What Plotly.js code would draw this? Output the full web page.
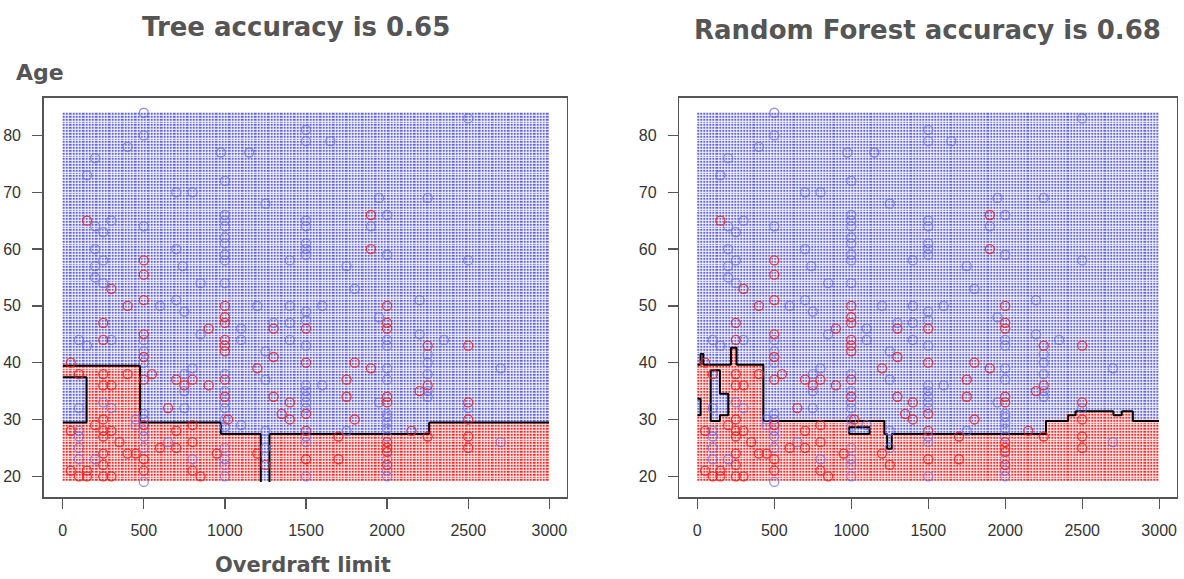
<!DOCTYPE html>
<html><head><meta charset="utf-8">
<script src="https://cdn.plot.ly/plotly-3.0.1.min.js"></script>
<style>html,body{margin:0;padding:0;background:#fff}#chart{width:1184px;height:579px}</style>
</head><body><div id="chart"></div>
<script>
// ---- observed customers (Overdraft limit, Age) ----
const blueX = [500,2500,500,1500,1650,1500,400,200,975,1150,150,1000,700,800,1250,2250,1950,300,200,250,500,1000,1000,1000,1500,1500,2000,1000,1000,1500,1500,1900,700,200,2000,1000,1000,740,250,1400,1750,2500,200,200,250,850,1800,1000,700,600,750,1200,1400,1600,2200,1500,1500,1100,1300,1400,1950,1500,
 2200,2350,2000,2000,2250,2250,2250,2700,2000,2000,100,150,300,500,500,500,850,1100,1400,1500,1250,800,750,1000,1000,1250,1500,1500,1500,1500,1500,1600,100,250,300,100,100,100,100,200,450,450,500,500,500,500,500,500,650,750,750,800,1000,1000,1000,1000,1000,1000,1000,1000,1100,1250,1250,1500,1500,1500,1750,1950,2000,2000,2000,2000,2000,2000,2000,2000,2250,2250,2500,2700];
const blueY = [84,83,80,81,79,79,78,76,77,77,73,72,70,70,68,69,69,65,64,63,64,66,65,64,65,64,66,62,61,61,60,64,60,60,59,59,58,57,58,58,57,58,57,55,54,54,53,54,51,50,49,50,50,50,51,49,47.5,46,47,47,48,59,
 45,44,44,43,41.5,40,38,39,39,37,44,43,44,44,42,40,45,44,44,43,42,39,38,38,35,37,36,35,34,33,32,36,32,33,32,28,27,25,23,23,30,29,31,30,28,27,25,19,26,35,32,23,33,32,30,28.7,25,23,22,20,29,28,25,27,26,20,28,33,31,30.4,29.4,28.4,27,23,21,20,35,34,32,26];
const redX = [150,1900,1900,500,500,300,500,400,1000,2000,1000,1000,2000,2000,250,900,
 2250,2500,1800,1900,50,100,250,250,250,300,400,500,500,500,550,700,750,800,900,1000,1000,1000,1000,1000,1020,1200,1300,1300,1300,1350,1400,1400,1500,1500,1500,1500,1500,1750,1750,1800,1700,1700,2000,2000,2000,2000,2000,2000,2150,2200,2250,2250,2500,2500,2500,2500,50,50,100,150,150,200,250,250,250,250,250,250,300,300,350,400,450,500,500,500,600,650,700,700,800,800,800,850,950,1200,1250];
const redY = [65,66,60,58,55.5,53,51,50,50,50,48,47,47,46,47,46,
 43,43,40,39,40,38,44,38,36,36,38,45,41,37,38,37,36,37,36,44,43,42,37,34,30,39,46,41,34,31,33,30,46,40,31,28,23,37,34,30,27,23,34,33,26,25,24.3,22,28,35,36,27,33,30,27,25,28,21,20,21,20,29,30,28,27,24,22,20,28,20,26,24,24,29,23,21,25,32,28,25,29,26,21,20,24,24,22];

// ---- predicted class regions: x-segments and the Age intervals predicted "red" ----
const treeSegX0 = [0,150,475,975,1222,1275,2262];
const treeSegX1 = [150,475,975,1222,1275,2262,3001];
const treeSegRed = [[[19,29.5],[37.5,39.5]],[[19,39.5]],[[19,29.5]],[[19,27.5]],[],[[19,27.5]],[[19,29.5]]];

const rfSegX0 = [0,20,40,88,146,200,220,255,427,990,1120,1218,1235,1265,2268,2409,2460,2701,2760,2829];
const rfSegX1 = [20,40,88,146,200,220,255,427,990,1120,1218,1235,1265,2268,2409,2460,2701,2760,2829,3001];
const rfSegRed = [[[19,30.8],[33.7,39.7]],[[19,41.6]],[[19,39.7]],[[19,29.8],[38.7,39.7]],[[19,30.8],[34.6,39.7]],
 [[19,39.7]],[[19,42.7]],[[19,39.7]],[[19,29.8]],[[19,27.5],[28.7,29.8]],[[19,29.8]],[[19,27.5]],[[19,24.9]],
 [[19,27.5]],[[19,29.8]],[[19,30.8]],[[19,31.5]],[[19,30.8]],[[19,31.5]],[[19,29.8]]];

const xTicks = [0,500,1000,1500,2000,2500,3000];
const yTicks = [20,30,40,50,60,70,80];

function isRed(x0,x1,reds,x,y){
  for(let i=0;i<x0.length;i++){
    if(x>=x0[i] && x<x1[i]){
      for(const iv of reds[i]) if(y>=iv[0] && y<iv[1]) return 1;
      return 0;
    }
  }
  return 0;
}
function grid(x0,x1,reds,dx,dy,off){
  const xs=[],ys=[],z=[];
  for(let x=off*dx;x<=3000+1e-9;x+=dx) xs.push(x);
  for(let y=19+off*dy;y<=84+1e-9;y+=dy) ys.push(y);
  for(const y of ys){const row=[];for(const x of xs)row.push(isRed(x0,x1,reds,x,y));z.push(row);}
  return {xs,ys,z};
}
function panel(x0,x1,reds,xa,ya){
  const h=grid(x0,x1,reds,20,0.5,0.5);
  const c=grid(x0,x1,reds,6,0.1,0);
  return [
    {type:'heatmap',x:h.xs,y:h.ys,z:h.z,xaxis:xa,yaxis:ya,zmin:0,zmax:1,
     colorscale:[[0,'rgb(100,100,218)'],[1,'rgb(255,40,40)']],showscale:false,xgap:1,ygap:1,hoverinfo:'skip'},
    {type:'contour',x:c.xs,y:c.ys,z:c.z,xaxis:xa,yaxis:ya,showscale:false,hoverinfo:'skip',
     contours:{coloring:'none',start:0.5,end:0.5,size:1},line:{color:'#000',width:2,smoothing:0}},
    {type:'scatter',mode:'markers',x:blueX,y:blueY,xaxis:xa,yaxis:ya,
     marker:{symbol:'circle-open',size:9,color:'rgba(110,110,228,0.75)',line:{width:1.3}},hoverinfo:'skip'},
    {type:'scatter',mode:'markers',x:redX,y:redY,xaxis:xa,yaxis:ya,
     marker:{symbol:'circle-open',size:9,color:'rgba(238,30,30,0.85)',line:{width:1.3}},hoverinfo:'skip'}
  ];
}
const data=[].concat(panel(treeSegX0,treeSegX1,treeSegRed,'x','y'),panel(rfSegX0,rfSegX1,rfSegRed,'x2','y2'));

const axBase={showgrid:false,zeroline:false,showline:true,mirror:true,linecolor:'#555',linewidth:1.5,
  ticks:'outside',ticklen:10,tickwidth:1.3,tickcolor:'#555',
  tickfont:{family:'Liberation Sans, Arial, sans-serif',size:16,color:'#333'},ticklabelstandoff:8};
const W=1184,H=579;
const yDom=[1-497.3/H,1-97.7/H];
const layout={width:W,height:H,margin:{l:0,r:0,t:0,b:0},paper_bgcolor:'#fff',plot_bgcolor:'#fff',showlegend:false,
  xaxis:Object.assign({},axBase,{domain:[43.7/W,566.7/W],range:[-117,3107],tickvals:xTicks,anchor:'y'}),
  yaxis:Object.assign({},axBase,{domain:yDom,range:[16.3,86.65],tickvals:yTicks,anchor:'x'}),
  xaxis2:Object.assign({},axBase,{domain:[679.3/W,1176.7/W],range:[-117,3114],tickvals:xTicks,anchor:'y2'}),
  yaxis2:Object.assign({},axBase,{domain:yDom,range:[16.3,86.65],tickvals:yTicks,anchor:'x2'}),
  annotations:[
    {text:'Tree accuracy is 0.65',xref:'paper',yref:'paper',x:296/W,y:1-27/H,xanchor:'center',yanchor:'middle',showarrow:false,
     font:{family:'DejaVu Sans',size:26,color:'#555',weight:'bold'}},
    {text:'Random Forest accuracy is 0.68',xref:'paper',yref:'paper',x:927/W,y:1-30/H,xanchor:'center',yanchor:'middle',showarrow:false,
     font:{family:'DejaVu Sans',size:26,color:'#555',weight:'bold'}},
    {text:'Age',xref:'paper',yref:'paper',x:14/W,y:1-73/H,xanchor:'left',yanchor:'middle',showarrow:false,
     font:{family:'DejaVu Sans',size:22,color:'#555',weight:'bold'}},
    {text:'Overdraft limit',xref:'paper',yref:'paper',x:303/W,y:1-565/H,xanchor:'center',yanchor:'middle',showarrow:false,
     font:{family:'DejaVu Sans',size:21,color:'#555',weight:'bold'}}
  ]};
Plotly.newPlot('chart',data,layout,{staticPlot:true});
</script></body></html>
